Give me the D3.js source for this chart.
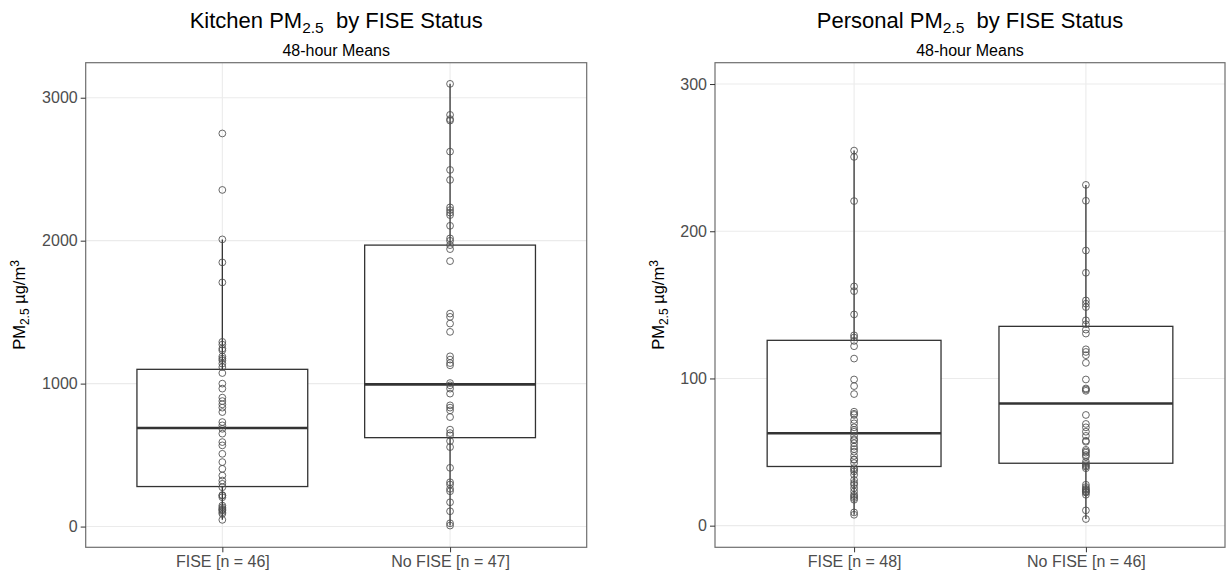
<!DOCTYPE html>
<html>
<head>
<meta charset="utf-8">
<script src="https://cdn.jsdelivr.net/npm/d3@7"></script>
<style>
  html, body { margin: 0; padding: 0; background: #ffffff; }
  svg { display: block; }
  text { font-family: "Liberation Sans", Arial, Helvetica, sans-serif; }
</style>
</head>
<body>
<svg id="chart" width="1227" height="575"></svg>
<script>
// ---------------- DATA ----------------
const categoriesKitchen = ["FISE [n = 46]", "No FISE [n = 47]"];
const categoriesPersonal = ["FISE [n = 48]", "No FISE [n = 46]"];

const kitchenFISE = [2750, 2355, 2009, 1848, 1708, 1292, 1273, 1245, 1233, 1190, 1175, 1163, 1140, 1116, 1074,
  1000, 965, 902, 878, 855, 832, 801, 731, 708, 684, 650, 591, 568, 509, 451, 404, 357, 322, 299, 275,
  220, 217, 205, 147, 135, 124, 118, 112, 100, 89, 47];
const kitchenNoFISE = [3097, 2880, 2850, 2840, 2623, 2495, 2425, 2233, 2214, 2196, 2179, 2104, 2016, 1999, 1969,
  1941, 1857, 1490, 1467, 1420, 1362, 1191, 1168, 1144, 1128, 1004, 988, 965, 930, 848, 832, 813, 766,
  678, 654, 638, 598, 556, 411, 310, 294, 264, 247, 170, 107, 23, 7];
const personalFISE = [254.8, 250.5, 220.5, 162.5, 159.3, 143.5, 129.3, 127.8, 125.5, 121.9, 113.5, 99.3, 94.8,
  89.4, 77.4, 76, 75.2, 71.8, 69.5, 66.8, 65, 63.8, 60.9, 58.7, 58, 56, 53.7, 52, 50.3, 47.4, 45, 44.7, 42.5,
  39.1, 38, 36.8, 34.5, 31.1, 29, 27.8, 25.5, 23.2, 21, 20, 18.8, 17.6, 9, 7.4];
const personalNoFISE = [231.5, 220.7, 186.9, 171.8, 153, 150.8, 148.5, 139.5, 136.8, 133.2, 130.5, 119.8, 118,
  115.8, 110.6, 99.3, 93.2, 92.5, 91.6, 75.2, 69.1, 66.8, 63.8, 61, 57.7, 57, 51.5, 50.5, 49.6, 48, 46.9,
  43.5, 42, 41, 40.1, 39, 27.8, 26.2, 25, 24.4, 23.5, 23, 22.5, 21, 10.4, 4.5];

// box statistics [whisker low, Q1, median, Q3, whisker high]
const kitchenBoxFISE = [47, 280, 690, 1100, 2009];
const kitchenBoxNoFISE = [7, 622, 995, 1969, 3097];
const personalBoxFISE = [7.4, 40.2, 62.8, 125.9, 254.8];
const personalBoxNoFISE = [4.5, 42.4, 83, 135.4, 231.5];

const kitchenTicks = [0, 1000, 2000, 3000];
const personalTicks = [0, 100, 200, 300];

const kitchenTitle = "Kitchen PM";
const personalTitle = "Personal PM";
const titleTail = "\u00a0 by FISE Status";
const subtitleText = "48-hour Means";

// ---------------- DRAW ----------------
const svg = d3.select("#chart");

const panels = [
  { x0: 85.7, x1: 586.7, y0: 62.7, y1: 547.3, domain: [-145, 3245], ticks: kitchenTicks,
    cats: categoriesKitchen, values: [kitchenFISE, kitchenNoFISE], boxes: [kitchenBoxFISE, kitchenBoxNoFISE],
    title: kitchenTitle, ylabX: 19 },
  { x0: 715, x1: 1225, y0: 62.7, y1: 547.3, domain: [-14.7, 314.5], ticks: personalTicks,
    cats: categoriesPersonal, values: [personalFISE, personalNoFISE], boxes: [personalBoxFISE, personalBoxNoFISE],
    title: personalTitle, ylabX: 658 }
];

panels.forEach(p => {
  const g = svg.append("g");
  const x = d3.scalePoint().domain(p.cats).range([p.x0, p.x1]).padding(0.6);
  const y = d3.scaleLinear().domain(p.domain).range([p.y1, p.y0]);
  const boxW = x.step() * 0.75;

  g.append("rect").attr("x", p.x0).attr("y", p.y0).attr("width", p.x1 - p.x0).attr("height", p.y1 - p.y0)
    .attr("fill", "#ffffff");

  // grid
  g.selectAll(".hg").data(p.ticks).enter().append("line")
    .attr("x1", p.x0).attr("x2", p.x1).attr("y1", d => y(d)).attr("y2", d => y(d))
    .attr("stroke", "#ebebeb").attr("stroke-width", 1.1);
  g.selectAll(".vg").data(p.cats).enter().append("line")
    .attr("x1", d => x(d)).attr("x2", d => x(d)).attr("y1", p.y0).attr("y2", p.y1)
    .attr("stroke", "#ebebeb").attr("stroke-width", 1.1);

  // boxes and whiskers
  p.cats.forEach((c, i) => {
    const b = p.boxes[i];
    g.append("line").attr("x1", x(c)).attr("x2", x(c)).attr("y1", y(b[3])).attr("y2", y(b[4]))
      .attr("stroke", "#333333").attr("stroke-width", 1.3);
    g.append("line").attr("x1", x(c)).attr("x2", x(c)).attr("y1", y(b[1])).attr("y2", y(b[0]))
      .attr("stroke", "#333333").attr("stroke-width", 1.3);
    g.append("rect").attr("x", x(c) - boxW / 2).attr("y", y(b[3]))
      .attr("width", boxW).attr("height", y(b[1]) - y(b[3]))
      .attr("fill", "#ffffff").attr("stroke", "#333333").attr("stroke-width", 1.3);
    g.append("line").attr("x1", x(c) - boxW / 2).attr("x2", x(c) + boxW / 2)
      .attr("y1", y(b[2])).attr("y2", y(b[2]))
      .attr("stroke", "#333333").attr("stroke-width", 2.6);
  });

  // points
  p.cats.forEach((c, i) => {
    g.selectAll(null).data(p.values[i]).enter().append("circle")
      .attr("cx", x(c)).attr("cy", d => y(d)).attr("r", 3.4)
      .attr("fill", "none").attr("stroke", "#4d4d4d").attr("stroke-opacity", 0.85).attr("stroke-width", 1);
  });

  // border
  g.append("rect").attr("x", p.x0).attr("y", p.y0).attr("width", p.x1 - p.x0).attr("height", p.y1 - p.y0)
    .attr("fill", "none").attr("stroke", "#6e6e6e").attr("stroke-width", 1.2);

  // axes
  const ya = g.append("g").attr("transform", `translate(${p.x0},0)`)
    .call(d3.axisLeft(y).tickValues(p.ticks).tickFormat(d3.format("d")).tickSize(5).tickPadding(3));
  ya.select(".domain").remove();
  ya.selectAll(".tick line").attr("stroke", "#333333");
  ya.selectAll(".tick text").attr("fill", "#4d4d4d").style("font-size", "16px")
    .style("font-family", "'Liberation Sans', Arial, sans-serif");

  const xa = g.append("g").attr("transform", `translate(0,${p.y1})`)
    .call(d3.axisBottom(x).tickSize(5).tickPadding(3));
  xa.select(".domain").remove();
  xa.selectAll(".tick line").attr("stroke", "#333333");
  xa.selectAll(".tick text").attr("fill", "#4d4d4d").style("font-size", "16px")
    .style("font-family", "'Liberation Sans', Arial, sans-serif");

  // title
  const cx = (p.x0 + p.x1) / 2;
  const t = g.append("text").attr("x", cx).attr("y", 28).attr("text-anchor", "middle")
    .style("font-size", "22px").attr("fill", "#000");
  t.append("tspan").text(p.title);
  t.append("tspan").text("2.5").attr("dy", 5).style("font-size", "15.5px");
  t.append("tspan").text(titleTail).attr("dy", -5);

  g.append("text").attr("x", cx).attr("y", 56).attr("text-anchor", "middle")
    .style("font-size", "16px").attr("fill", "#000").text(subtitleText);

  // y label
  const cy = (p.y0 + p.y1) / 2;
  const yl = g.append("text").attr("transform", `translate(${p.ylabX + 6},${cy}) rotate(-90)`)
    .attr("text-anchor", "middle").style("font-size", "16.5px").attr("fill", "#000");
  yl.append("tspan").text("PM");
  yl.append("tspan").text("2.5").attr("dy", 4).style("font-size", "12px");
  yl.append("tspan").text(" \u00b5g/m").attr("dy", -4);
  yl.append("tspan").text("3").attr("dy", -6).style("font-size", "12px");
});
</script>
</body>
</html>
